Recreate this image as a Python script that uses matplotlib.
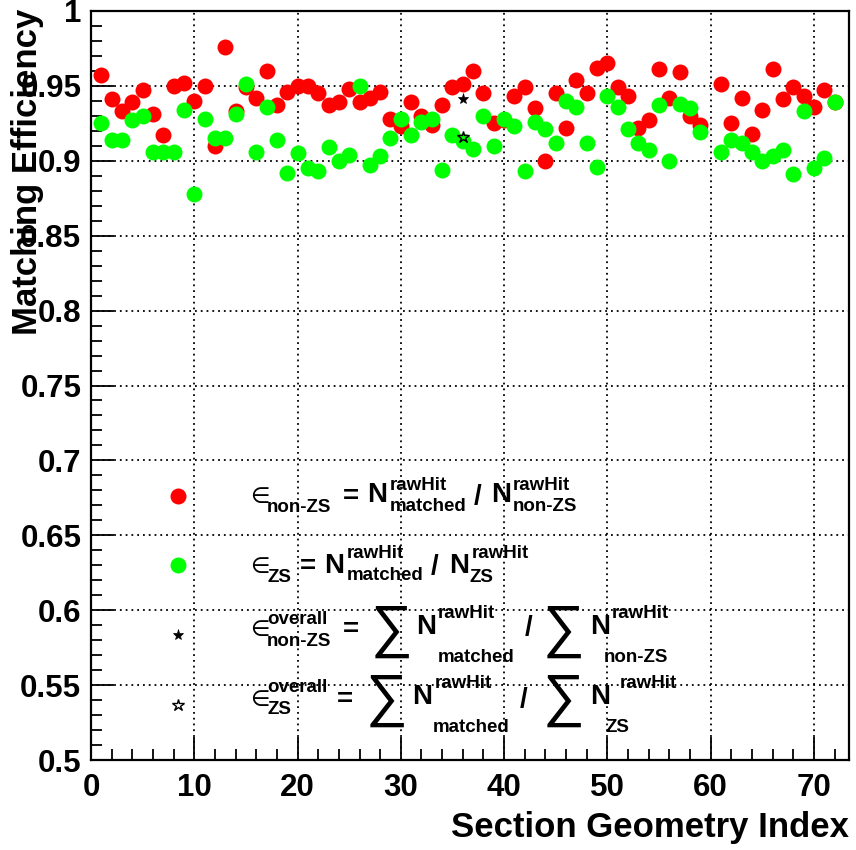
import numpy as np
import matplotlib
matplotlib.use("Agg")
import matplotlib.pyplot as plt
from matplotlib.ticker import MultipleLocator, FuncFormatter

plt.rcParams['font.family'] = ['Liberation Sans', 'DejaVu Sans']
plt.rcParams['font.weight'] = 'bold'
plt.rcParams['mathtext.fontset'] = 'custom'
plt.rcParams['mathtext.rm'] = 'Liberation Sans:bold'
plt.rcParams['mathtext.it'] = 'Liberation Sans:bold'
plt.rcParams['mathtext.bf'] = 'Liberation Sans:bold'

# section index (60 has no entry)
section = [1, 2, 3, 4, 5, 6, 7, 8, 9, 10, 11, 12, 13, 14, 15, 16, 17, 18, 19, 20,
           21, 22, 23, 24, 25, 26, 27, 28, 29, 30, 31, 32, 33, 34, 35, 36, 37, 38, 39, 40,
           41, 42, 43, 44, 45, 46, 47, 48, 49, 50, 51, 52, 53, 54, 55, 56, 57, 58, 59,
           61, 62, 63, 64, 65, 66, 67, 68, 69, 70, 71, 72]

eff_nonzs = [.957, .941, .933, .939, .947, .931, .917, .950, .952, .940,
             .950, .910, .976, .933, .949, .942, .960, .937, .946, .950,
             .950, .945, .937, .939, .948, .939, .942, .946, .928, .923,
             .939, .930, .924, .937, .949, .951, .960, .945, .925, .927,
             .943, .949, .935, .900, .945, .922, .954, .945, .962, .965,
             .949, .943, .922, .927, .961, .942, .959, .930, .924,
             .951, .925, .942, .918, .934, .961, .941, .949, .943, .936,
             .947, .939]

eff_zs = [.925, .914, .914, .927, .930, .906, .906, .906, .934, .878,
          .928, .915, .915, .931, .951, .906, .936, .914, .892, .905,
          .895, .893, .909, .900, .904, .950, .897, .903, .915, .928,
          .917, .926, .928, .894, .917, .913, .908, .930, .910, .928,
          .923, .893, .926, .921, .912, .940, .936, .912, .896, .943,
          .936, .921, .912, .907, .937, .900, .938, .935, .919,
          .906, .914, .912, .906, .900, .903, .907, .891, .933, .895,
          .902, .939]

overall_x = 36
overall_nonzs = 0.941
overall_zs = 0.916

W, H = 856, 850
fig = plt.figure(figsize=(W / 100, H / 100), dpi=100)
ax = fig.add_axes([91 / W, 1 - 760 / H, (849 - 91) / W, (760 - 11) / H])

ax.plot(section, eff_nonzs, 'o', color='#ff0000', ms=11.5, mew=0, zorder=3)
ax.plot(section, eff_zs, 'o', color='#00ff00', ms=11.5, mew=0, zorder=4)
ax.plot([overall_x], [overall_nonzs], '*', color='black', ms=8, mew=0.5, zorder=5)
ax.plot([overall_x], [overall_zs], '*', mfc='none', mec='black', ms=9, mew=1.0, zorder=5)

ax.set_xlim(0, 73.4)
ax.set_ylim(0.5, 1.0)
ax.xaxis.set_major_locator(MultipleLocator(10))
ax.xaxis.set_minor_locator(MultipleLocator(2))
ax.yaxis.set_major_locator(MultipleLocator(0.05))
ax.yaxis.set_minor_locator(MultipleLocator(0.01))
ax.yaxis.set_major_formatter(FuncFormatter(lambda v, p: '%g' % round(v, 2)))

ax.tick_params(which='major', direction='in', length=16.5, width=1.3,
               labelsize=22.5, pad=7, top=False, right=False)
ax.tick_params(which='minor', direction='in', length=8, width=1.3,
               top=False, right=False)
ax.tick_params(axis='x', which='major', pad=9)
for lab in ax.get_xticklabels() + ax.get_yticklabels():
    lab.set_fontweight('bold')

ax.grid(True, which='major', color='black', linestyle=(0, (1, 2.2)), linewidth=1.3)
for s in ax.spines.values():
    s.set_linewidth(1.6)

fig.text(28 / W, 1 - 9 / H, 'Matching Efficiency', rotation=90, ha='center',
         va='top', fontsize=25, fontweight='bold')
fig.text(849 / W, 1 - 828 / H, 'Section Geometry Index', ha='right', va='center',
         fontsize=25, fontweight='bold')


# legend, placed in pixel positions
def px(x, y):
    return x / W, 1 - y / H


def put(x, y, s, size, **kw):
    fig.text(*px(x, y), s, ha='left', va='center', fontsize=size,
             fontweight=kw.pop('weight', 'bold'), **kw)


lx = 178
ax.plot(*px(lx, 496), 'o', color='#ff0000', ms=11.5, mew=0, transform=fig.transFigure, clip_on=False)
ax.plot(*px(lx, 565), 'o', color='#00ff00', ms=11.5, mew=0, transform=fig.transFigure, clip_on=False)
ax.plot(*px(lx, 635), '*', color='black', ms=8, mew=0.5, transform=fig.transFigure, clip_on=False)
ax.plot(*px(lx, 705), '*', mfc='none', mec='black', ms=9, mew=1.0, transform=fig.transFigure, clip_on=False)

big, small = 20, 13.5
eps = dict(weight='normal', family='DejaVu Sans')

# row 1
put(250, 497, '\u2208', 16, **eps)
put(267, 508, 'non-ZS', small)
put(343, 497, '=', big)
put(367, 495, 'N', big)
put(390, 486, 'rawHit', small)
put(390, 506, 'matched', small)
put(474, 497, '/', big)
put(491, 495, 'N', big)
put(513, 486, 'rawHit', small)
put(513, 506, 'non-ZS', small)

# row 2
put(250, 567, '\u2208', 16, **eps)
put(267, 577, 'ZS', small)
put(300, 567, '=', big)
put(324, 566, 'N', big)
put(347, 554, 'rawHit', small)
put(347, 575, 'matched', small)
put(431, 567, '/', big)
put(449, 566, 'N', big)
put(472, 554, 'rawHit', small)
put(470, 577, 'ZS', small)

# rows 3 and 4
put(250, 630, '\u2208', 16, **eps)
put(267, 620, 'overall', small)
put(267, 641, 'non-ZS', small)
put(343, 630, '=', big)
put(371, 631, '\u2211', 42, weight='normal')
put(416, 627, 'N', big)
put(438, 613, 'rawHit', small)
put(438, 658, 'matched', small)
put(525, 628, '/', big)
put(543, 631, '\u2211', 42, weight='normal')
put(590, 627, 'N', big)
put(612, 613, 'rawHit', small)
put(604, 658, 'non-ZS', small)

put(250, 700, '\u2208', 16, **eps)
put(267, 688, 'overall', small)
put(267, 709, 'ZS', small)
put(337, 700, '=', big)
put(366, 700, '\u2211', 42, weight='normal')
put(412, 697, 'N', big)
put(435, 683, 'rawHit', small)
put(433, 728, 'matched', small)
put(520, 700, '/', big)
put(543, 700, '\u2211', 42, weight='normal')
put(590, 697, 'N', big)
put(620, 683, 'rawHit', small)
put(606, 728, 'ZS', small)

fig.savefig('out.png', dpi=100)
